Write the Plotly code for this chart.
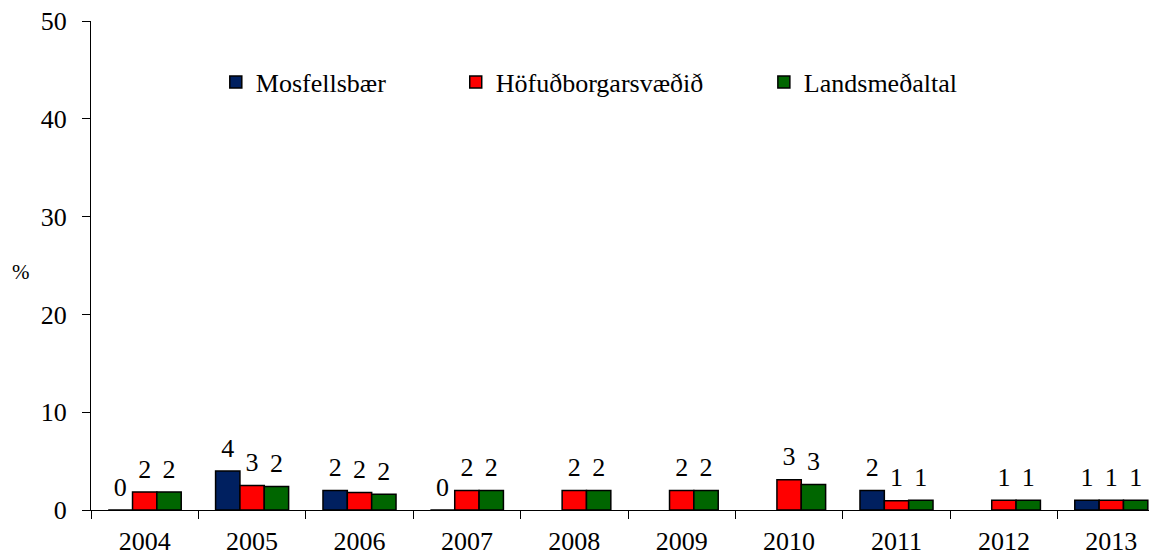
import plotly.graph_objects as go

years = ["2004", "2005", "2006", "2007", "2008", "2009", "2010", "2011", "2012", "2013"]
mosfellsbaer = [0, 4.0, 2.0, 0, None, None, None, 2.0, None, 1.0]
hofudborgarsvaedid = [1.85, 2.5, 1.8, 2.0, 2.0, 2.0, 3.1, 0.95, 1.0, 1.0]
landsmedaltal = [1.85, 2.4, 1.6, 2.0, 2.0, 2.0, 2.6, 1.0, 1.0, 1.0]

names = ["Mosfellsbær", "Höfuðborgarsvæðið", "Landsmeðaltal"]
colors = ["#002060", "#FF0000", "#006600"]
series = [mosfellsbaer, hofudborgarsvaedid, landsmedaltal]
legend_ids = ["legend", "legend2", "legend3"]
legend_x = [0.1162, 0.3396, 0.6265]

FONT = "Liberation Serif"
FS = 26

fig = go.Figure()
for name, col, vals, lg in zip(names, colors, series, legend_ids):
    fig.add_trace(go.Bar(
        x=years, y=vals, name=name,
        marker=dict(color=col, line=dict(color="black", width=1.5)),
        legend=lg, hoverinfo="x+y+name",
    ))

# value labels, grouped like the bars
for name, vals in zip(names, series):
    fig.add_trace(go.Scatter(
        x=years, y=vals, mode="markers+text", name=name,
        marker=dict(size=11, opacity=0),
        texttemplate="%{y:.0f}", textposition="top center",
        textfont=dict(family=FONT, size=FS, color="black"),
        showlegend=False, hoverinfo="skip", cliponaxis=False,
    ))

layout_legends = {}
for lg, lx in zip(legend_ids, legend_x):
    layout_legends[lg] = dict(
        x=lx, y=0.875, xanchor="left", yanchor="middle",
        orientation="h", bgcolor="rgba(0,0,0,0)",
        font=dict(family=FONT, size=FS, color="black"),
        itemclick=False,
    )

fig.update_layout(
    width=1157, height=558,
    margin=dict(l=83, r=0, t=13, b=56),
    paper_bgcolor="white", plot_bgcolor="white",
    barmode="group", bargap=0.32, bargroupgap=0,
    scattermode="group", scattergap=0.32,
    font=dict(family=FONT, size=FS, color="black"),
    showlegend=True,
    **layout_legends,
)
fig.update_xaxes(
    type="category", showline=True, linecolor="black", linewidth=1,
    ticks="outside", ticklen=8, tickcolor="black", tickson="boundaries",
    showgrid=False, automargin=False, ticklabelstandoff=8,
    ticklabeloverflow="allow",
    tickfont=dict(family=FONT, size=FS, color="black"),
)
fig.update_yaxes(
    range=[0, 50], dtick=10, showline=True, linecolor="black", linewidth=1,
    ticks="outside", ticklen=8, tickcolor="black", showgrid=False, zeroline=False,
    automargin=False, ticklabelstandoff=10, ticklabeloverflow="allow",
    tickfont=dict(family=FONT, size=FS, color="black"),
)
fig.add_annotation(
    text="%", xref="paper", yref="paper", x=-0.075, y=0.487,
    showarrow=False, font=dict(family=FONT, size=21, color="black"),
)

fig.write_html("out.html")
